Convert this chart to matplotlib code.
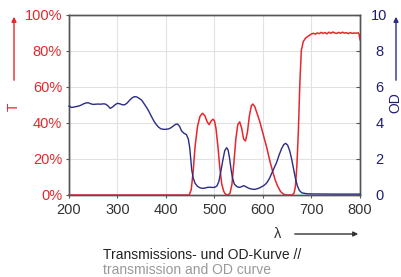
import matplotlib
matplotlib.use("Agg")
import matplotlib.pyplot as plt

plt.rcParams['font.family'] = ['Liberation Sans', 'DejaVu Sans']

RED = '#e8262c'
NAVY = '#2b2b86'
NAVY_TXT = '#1f1f70'

# Transmission curve (wavelength nm, %)
t_wl = [200, 300, 400, 440, 448, 452, 456, 460, 465, 470, 475, 480, 485, 489, 493, 497, 500,
        503, 507, 511, 515, 519, 523, 528, 532, 536, 540, 544, 548, 552, 556, 560, 564, 568,
        572, 576, 579, 583, 588, 593, 598, 603, 608, 614, 620, 625, 630, 636, 642, 648, 655,
        660, 664, 667, 670, 673, 676, 679, 683, 688, 693, 700, 704, 708, 712, 716, 720, 724,
        728, 732, 736, 740, 744, 748, 752, 756, 760, 764, 768, 772, 776, 780, 784, 788, 792,
        796, 798, 800]
t_val = [0, 0, 0, 0, 0, 3, 13, 27, 38, 43.5, 45.3, 44, 40.5, 39, 41, 42, 41,
         37, 27, 15, 6, 2, 0.3, 0, 1, 6, 18, 31, 39, 40.5, 37, 31, 30, 35,
         44, 49.5, 50.4, 49, 45, 41, 36, 31, 26, 19, 13, 8.5, 5, 2, 0.5, 0, 0,
         0, 1, 5, 17, 36, 62, 80, 85, 87, 88, 89.2, 89.6, 89.1, 89.8, 89.4, 90.1, 89.5,
         90.0, 89.3, 90.2, 89.6, 90.3, 89.8, 89.5, 90.1, 89.6, 90.2, 89.7, 89.9, 89.4, 90.0, 89.5, 89.8, 89.6,
         89.9, 89.2, 86]

# Optical density curve (wavelength nm, OD)
od_wl = [200, 205, 210, 215, 220, 225, 230, 235, 240, 245, 250, 255, 260, 265, 270, 275, 280,
         285, 290, 295, 300, 305, 310, 315, 320, 325, 330, 335, 340, 345, 350, 355, 360, 365,
         370, 375, 380, 385, 390, 395, 400, 405, 410, 415, 420, 424, 428, 432, 437, 442, 446,
         449, 451, 453, 456, 460, 465, 470, 475, 480, 485, 490, 495, 500, 505, 509, 513, 517,
         521, 525, 528, 531, 534, 537, 541, 546, 551, 556, 560, 564, 570, 576, 583, 590, 597,
         603, 608, 613, 618, 623, 628, 633, 638, 643, 647, 651, 655, 659, 663, 667, 671, 675,
         680, 690, 700, 750, 800]
od_val = [4.93, 4.85, 4.87, 4.9, 4.93, 4.98, 5.05, 5.1, 5.11, 5.05, 5.02, 5.03, 5.04, 5.03, 5.05, 5.04, 4.95,
          4.8, 4.88, 5.0, 5.08, 5.05, 5.0, 5.0, 5.1, 5.25, 5.38, 5.45, 5.43, 5.35, 5.25, 5.05, 4.85, 4.62,
          4.35, 4.1, 3.9, 3.75, 3.66, 3.64, 3.64, 3.66, 3.72, 3.82, 3.92, 3.93, 3.8, 3.55, 3.42, 3.35, 3.1,
          2.6, 2.0, 1.4, 0.95, 0.65, 0.48, 0.4, 0.37, 0.38, 0.42, 0.43, 0.42, 0.42, 0.5, 0.75, 1.3, 1.9,
          2.45, 2.62, 2.5, 2.05, 1.45, 0.95, 0.6, 0.47, 0.42, 0.46, 0.52, 0.47, 0.38, 0.33, 0.31, 0.36, 0.45,
          0.55, 0.68, 0.9, 1.2, 1.5, 1.8, 2.2, 2.55, 2.8, 2.86, 2.75, 2.45, 2.0, 1.45, 0.9, 0.5, 0.25,
          0.12, 0.07, 0.06, 0.05, 0.05]

x_ticks = [200, 300, 400, 500, 600, 700, 800]
t_ticks = [0, 20, 40, 60, 80, 100]
t_labels = ['0%', '20%', '40%', '60%', '80%', '100%']
od_ticks = [0, 2, 4, 6, 8, 10]

fig = plt.figure(figsize=(4.02, 2.77), dpi=100)
ax = fig.add_axes([69 / 402, 1 - 195 / 277, 291 / 402, 180.5 / 277])
ax2 = ax.twinx()

ax.plot(t_wl, t_val, color=RED, lw=1.1, clip_on=False, zorder=3)
ax2.plot(od_wl, od_val, color=NAVY, lw=1.0, clip_on=False, zorder=3)

ax.set_xlim(200, 800)
ax.set_ylim(0, 100)
ax2.set_ylim(0, 10)

ax.set_xticks(x_ticks)
ax.set_yticks(t_ticks)
ax.set_yticklabels(t_labels)
ax2.set_yticks(od_ticks)

ax.grid(True, color='#e2e2e2', lw=0.8)
ax.set_axisbelow(True)

for a in (ax, ax2):
    for s in a.spines.values():
        s.set_color('#555555')
        s.set_linewidth(1.0)

ax.tick_params(axis='y', colors='#555555', labelcolor=RED, labelsize=10.5, length=2, pad=3)
ax.tick_params(axis='x', colors='#555555', labelcolor='#333333', labelsize=10.5, length=2, pad=4)
ax2.tick_params(axis='y', colors='#555555', labelcolor=NAVY_TXT, labelsize=10.5, length=3,
                direction='in', pad=14)
ax2.yaxis.set_tick_params(labelright=True)
for lbl in ax2.get_yticklabels():
    lbl.set_horizontalalignment('center')

# Axis labels with arrows
fig.text(14 / 402, 1 - 107 / 277, 'T', color=RED, fontsize=10, rotation=90,
         ha='center', va='center')
fig.add_artist(matplotlib.patches.FancyArrowPatch(
    (14 / 402, 1 - 83 / 277), (14 / 402, 1 - 14 / 277), transform=fig.transFigure,
    arrowstyle='-|>', mutation_scale=7, color=RED, lw=1.0))

fig.text(395 / 402, 1 - 103 / 277, 'OD', color=NAVY_TXT, fontsize=10, rotation=90,
         ha='center', va='center')
fig.add_artist(matplotlib.patches.FancyArrowPatch(
    (396 / 402, 1 - 83 / 277), (396 / 402, 1 - 14 / 277), transform=fig.transFigure,
    arrowstyle='-|>', mutation_scale=7, color=NAVY, lw=1.0))

fig.text(278 / 402, 1 - 234 / 277, 'λ', color='#333333', fontsize=10.5,
         ha='center', va='center')
fig.add_artist(matplotlib.patches.FancyArrowPatch(
    (292 / 402, 1 - 234 / 277), (361 / 402, 1 - 234 / 277), transform=fig.transFigure,
    arrowstyle='-|>', mutation_scale=7, color='#333333', lw=1.0))

fig.text(103 / 402, 1 - 255 / 277, 'Transmissions- und OD-Kurve //', color='#222222',
         fontsize=10, ha='left', va='center')
fig.text(103 / 402, 1 - 270 / 277, 'transmission and OD curve', color='#999999',
         fontsize=10, ha='left', va='center')

fig.savefig('out.png', dpi=100)
